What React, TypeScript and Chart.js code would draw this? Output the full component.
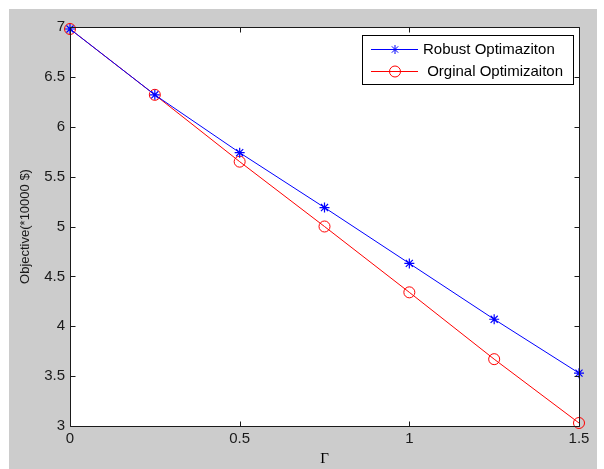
import React, { useEffect, useRef } from "react";
import { Chart, registerables } from "chart.js";

Chart.register(...registerables);

const gammaValues = [0, 0.25, 0.5, 0.75, 1, 1.25, 1.5];
const robustValues = [6.98, 6.32, 5.74, 5.19, 4.63, 4.07, 3.53];
const originalValues = [6.98, 6.32, 5.65, 5.0, 4.34, 3.67, 3.03];
const xTickValues = [0, 0.5, 1, 1.5];
const yTickValues = [3, 3.5, 4, 4.5, 5, 5.5, 6, 6.5, 7];
const seriesLabels = ["Robust Optimaziton", " Orginal Optimizaiton"];
const xTitle = "Γ";
const yTitle = "Objective(*10000 $)";

const SANS = '"Liberation Sans", Arial, Helvetica, sans-serif';
const SERIF = '"Liberation Serif", "Times New Roman", "DejaVu Serif", serif';
const BLUE = "#0000ff";
const RED = "#ff0000";

function drawStar(ctx: CanvasRenderingContext2D, x: number, y: number, r: number, color: string) {
  ctx.save();
  ctx.strokeStyle = color;
  ctx.lineWidth = 1;
  ctx.beginPath();
  for (let i = 0; i < 4; i++) {
    const a = (i * Math.PI) / 4;
    ctx.moveTo(x - Math.cos(a) * r, y - Math.sin(a) * r);
    ctx.lineTo(x + Math.cos(a) * r, y + Math.sin(a) * r);
  }
  ctx.stroke();
  ctx.restore();
}

function drawCircle(ctx: CanvasRenderingContext2D, x: number, y: number, r: number, color: string) {
  ctx.save();
  ctx.strokeStyle = color;
  ctx.lineWidth = 1;
  ctx.beginPath();
  ctx.arc(x, y, r, 0, Math.PI * 2);
  ctx.stroke();
  ctx.restore();
}

const matlabFrame = {
  id: "matlabFrame",
  beforeDraw(chart: any) {
    const ctx: CanvasRenderingContext2D = chart.ctx;
    const { width, height, chartArea: ca } = chart;
    ctx.save();
    ctx.fillStyle = "#ffffff";
    ctx.fillRect(0, 0, width, height);
    ctx.fillStyle = "#cccccc";
    ctx.fillRect(9, 9, 588, height - 9);
    ctx.fillStyle = "#ffffff";
    ctx.fillRect(ca.left, ca.top, ca.right - ca.left, ca.bottom - ca.top);
    ctx.restore();
  },
  afterDatasetsDraw(chart: any) {
    const ctx: CanvasRenderingContext2D = chart.ctx;
    const ca = chart.chartArea;
    const xs = chart.scales.x;
    const ys = chart.scales.y;
    const L = Math.round(ca.left) + 0.5;
    const R = Math.round(ca.right) + 0.5;
    const T = Math.round(ca.top) + 0.5;
    const B = Math.round(ca.bottom) + 0.5;
    ctx.save();
    ctx.strokeStyle = "#1a1a1a";
    ctx.lineWidth = 1;
    ctx.beginPath();
    ctx.rect(L, T, R - L, B - T);
    const tl = 5;
    xTickValues.forEach((v) => {
      const px = Math.round(xs.getPixelForValue(v)) + 0.5;
      ctx.moveTo(px, B);
      ctx.lineTo(px, B - tl);
      ctx.moveTo(px, T);
      ctx.lineTo(px, T + tl);
    });
    yTickValues.forEach((v) => {
      const py = Math.round(ys.getPixelForValue(v)) + 0.5;
      ctx.moveTo(L, py);
      ctx.lineTo(L + tl, py);
      ctx.moveTo(R, py);
      ctx.lineTo(R - tl, py);
    });
    ctx.stroke();
    ctx.restore();
  },
  afterDraw(chart: any) {
    const ctx: CanvasRenderingContext2D = chart.ctx;
    const ca = chart.chartArea;
    const boxW = 211;
    const boxH = 49;
    const boxRight = Math.round(ca.right) - 6;
    const boxLeft = boxRight - boxW;
    const boxTop = Math.round(ca.top) + 8;
    ctx.save();
    ctx.fillStyle = "#ffffff";
    ctx.fillRect(boxLeft, boxTop, boxW, boxH);
    ctx.strokeStyle = "#000000";
    ctx.lineWidth = 1;
    ctx.strokeRect(boxLeft + 0.5, boxTop + 0.5, boxW, boxH);
    ctx.font = `15px ${SANS}`;
    ctx.textBaseline = "middle";
    ctx.textAlign = "left";
    ctx.fillStyle = "#000000";
    const datasets = chart.data.datasets;
    datasets.forEach((ds: any, i: number) => {
      const y = boxTop + 14.5 + i * 22;
      ctx.strokeStyle = ds.borderColor;
      ctx.beginPath();
      ctx.moveTo(boxLeft + 9, y);
      ctx.lineTo(boxLeft + 56, y);
      ctx.stroke();
      if (ds.pointStyle === "star") drawStar(ctx, boxLeft + 33, y, 4.5, ds.borderColor);
      else drawCircle(ctx, boxLeft + 33, y, 5.5, ds.borderColor);
      ctx.fillStyle = "#000000";
      ctx.fillText(ds.label, boxLeft + 61, y + 0.5);
    });
    ctx.restore();
  },
};

export default function App() {
  const canvasRef = useRef<HTMLCanvasElement | null>(null);

  useEffect(() => {
    const canvas = canvasRef.current;
    if (!canvas) return;
    const chart = new Chart(canvas, {
      type: "line",
      data: {
        datasets: [
          {
            label: seriesLabels[0],
            data: gammaValues.map((g, i) => ({ x: g, y: robustValues[i] })),
            borderColor: BLUE,
            backgroundColor: BLUE,
            borderWidth: 1,
            pointStyle: "star",
            pointRadius: 5,
            pointBorderWidth: 1.2,
            pointBorderColor: BLUE,
            pointHoverRadius: 5,
            tension: 0,
            clip: false,
          },
          {
            label: seriesLabels[1],
            data: gammaValues.map((g, i) => ({ x: g, y: originalValues[i] })),
            borderColor: RED,
            backgroundColor: "rgba(0,0,0,0)",
            borderWidth: 1,
            pointStyle: "circle",
            pointRadius: 5.5,
            pointBorderWidth: 1,
            pointBorderColor: RED,
            pointBackgroundColor: "rgba(0,0,0,0)",
            pointHoverRadius: 5.5,
            tension: 0,
            clip: false,
          },
        ] as any,
      },
      options: {
        responsive: false,
        animation: false,
        devicePixelRatio: 1,
        layout: { padding: { left: 0, top: 27, right: 25, bottom: 0 } },
        plugins: {
          legend: { display: false },
          tooltip: { enabled: false },
        },
        events: [],
        scales: {
          x: {
            type: "linear",
            min: 0,
            max: 1.5,
            afterBuildTicks: (scale: any) => {
              scale.ticks = xTickValues.map((v) => ({ value: v }));
            },
            afterFit: (scale: any) => {
              scale.height = 43;
            },
            ticks: {
              font: { size: 15, family: SANS },
              color: "#1a1a1a",
              padding: 4,
              maxRotation: 0,
              autoSkip: false,
              callback: (v: any) => String(v),
            },
            grid: { display: false, drawTicks: false },
            border: { display: false },
            title: {
              display: true,
              text: xTitle,
              font: { size: 15, family: SERIF },
              color: "#000000",
              padding: { top: 0, bottom: 1 },
            },
          },
          y: {
            type: "linear",
            min: 3,
            max: 7,
            afterBuildTicks: (scale: any) => {
              scale.ticks = yTickValues.map((v) => ({ value: v }));
            },
            afterFit: (scale: any) => {
              scale.width = 70;
            },
            ticks: {
              font: { size: 15, family: SANS },
              color: "#1a1a1a",
              padding: 5,
              autoSkip: false,
              callback: (v: any) => String(v),
            },
            grid: { display: false, drawTicks: false },
            border: { display: false },
            title: {
              display: true,
              text: yTitle,
              font: { size: 13, family: SANS },
              color: "#1a1a1a",
              padding: { top: 18, bottom: 0 },
            },
          },
        },
      },
      plugins: [matlabFrame],
    });
    return () => chart.destroy();
  }, []);

  return (
    <div style={{ position: "absolute", left: 0, top: 0, width: 604, height: 469 }}>
      <canvas ref={canvasRef} width={604} height={469} style={{ display: "block", width: 604, height: 469 }} />
    </div>
  );
}
